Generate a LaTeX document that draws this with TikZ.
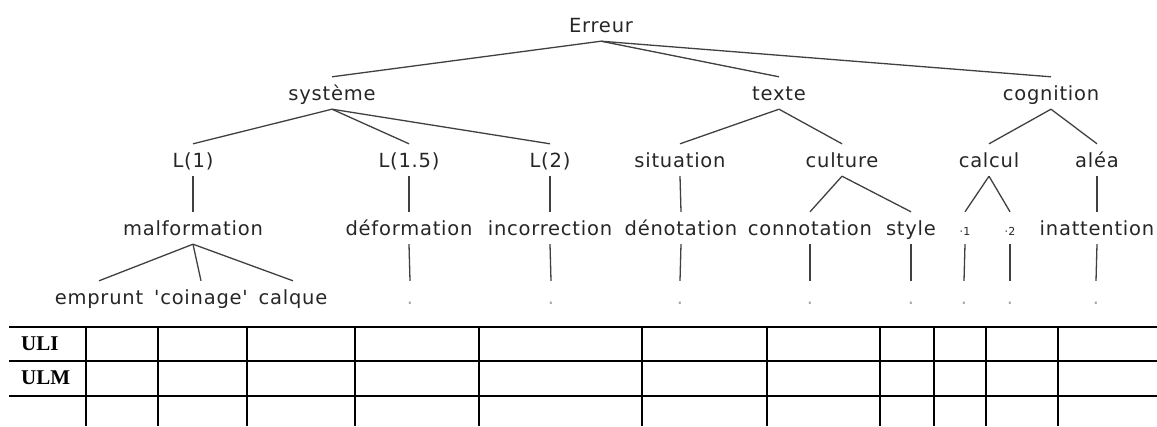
\documentclass[tikz,border=0pt]{standalone}
\usepackage{fontspec}
\newfontfamily\treefont{DejaVu Sans}[LetterSpace=4]
\newfontfamily\tabfont{Liberation Serif}
\begin{document}
\begin{tikzpicture}[x=1pt,y=-1pt,
  lab/.style={inner sep=0pt, text height=15pt, text depth=0pt, minimum height=32pt,
    font=\treefont\fontsize{19.5}{20}\selectfont, text=black!85},
  sm/.style={lab, font=\treefont\fontsize{11}{12}\selectfont},
  leaf/.style={lab, text=black!35},
  edge/.style={draw=black!75, line width=1.3pt},
  tab/.style={draw=black, line width=1.7pt},
  rowlab/.style={anchor=west, inner sep=0pt, font=\tabfont\bfseries\fontsize{21}{21}\selectfont}]
\useasboundingbox (0,0) rectangle (1157,426);
% level 0-1
\node[lab] (err) at (601,25) {Erreur};
\node[lab] (sys) at (332,93) {système};
\node[lab] (tex) at (779,93) {texte};
\node[lab] (cog) at (1051,93) {cognition};
% level 2
\node[lab] (l1) at (193,160) {L(1)};
\node[lab] (l15) at (409,160) {L(1.5)};
\node[lab] (l2) at (550,160) {L(2)};
\node[lab] (sit) at (680,160) {situation};
\node[lab] (cul) at (842,160) {culture};
\node[lab] (cal) at (989,160) {calcul};
\node[lab] (alea) at (1097,160) {aléa};
% level 3
\node[lab] (malf) at (193,228) {malformation};
\node[lab] (defo) at (409,228) {déformation};
\node[lab] (inco) at (550,228) {incorrection};
\node[lab] (deno) at (681,228) {dénotation};
\node[lab] (conn) at (810,228) {connotation};
\node[lab] (sty) at (911,228) {style};
\node[sm] (c1) at (965,228) {·1};
\node[sm] (c2) at (1010,228) {·2};
\node[lab] (inat) at (1097,228) {inattention};
% level 4
\node[lab] (emp) at (99,297) {emprunt};
\node[lab] (coi) at (201,297) {'coinage'};
\node[lab] (calq) at (293,297) {calque};
\node[leaf] (d1) at (410,297) {.};
\node[leaf] (d2) at (551,297) {.};
\node[leaf] (d3) at (680,297) {.};
\node[leaf] (d4) at (810,297) {.};
\node[leaf] (d5) at (911,297) {.};
\node[leaf] (d6) at (964,297) {.};
\node[leaf] (d7) at (1010,297) {.};
\node[leaf] (d8) at (1096,297) {.};
% edges
\draw[edge] (err.south) -- (sys.north);
\draw[edge] (err.south) -- (tex.north);
\draw[edge] (err.south) -- (cog.north);
\draw[edge] (sys.south) -- (l1.north);
\draw[edge] (sys.south) -- (l15.north);
\draw[edge] (sys.south) -- (l2.north);
\draw[edge] (tex.south) -- (sit.north);
\draw[edge] (tex.south) -- (cul.north);
\draw[edge] (cog.south) -- (cal.north);
\draw[edge] (cog.south) -- (alea.north);
\draw[edge] (l1.south) -- (malf.north);
\draw[edge] (l15.south) -- (defo.north);
\draw[edge] (l2.south) -- (inco.north);
\draw[edge] (sit.south) -- (deno.north);
\draw[edge] (cul.south) -- (conn.north);
\draw[edge] (cul.south) -- (sty.north);
\draw[edge] (cal.south) -- (c1.north);
\draw[edge] (cal.south) -- (c2.north);
\draw[edge] (alea.south) -- (inat.north);
\draw[edge] (malf.south) -- (emp.north);
\draw[edge] (malf.south) -- (coi.north);
\draw[edge] (malf.south) -- (calq.north);
\draw[edge] (defo.south) -- (d1.north);
\draw[edge] (inco.south) -- (d2.north);
\draw[edge] (deno.south) -- (d3.north);
\draw[edge] (conn.south) -- (d4.north);
\draw[edge] (sty.south) -- (d5.north);
\draw[edge] (c1.south) -- (d6.north);
\draw[edge] (c2.south) -- (d7.north);
\draw[edge] (inat.south) -- (d8.north);
% table
\foreach \y in {327,361,396} \draw[tab] (9,\y) -- (1157,\y);
\foreach \x in {86,158,247,355,479,642,767,880,934,986,1058} \draw[tab] (\x,327) -- (\x,426);
\node[rowlab] (uli) at (21,344) {ULI};
\node[rowlab] (ulm) at (21,378) {ULM};
\end{tikzpicture}
\end{document}
